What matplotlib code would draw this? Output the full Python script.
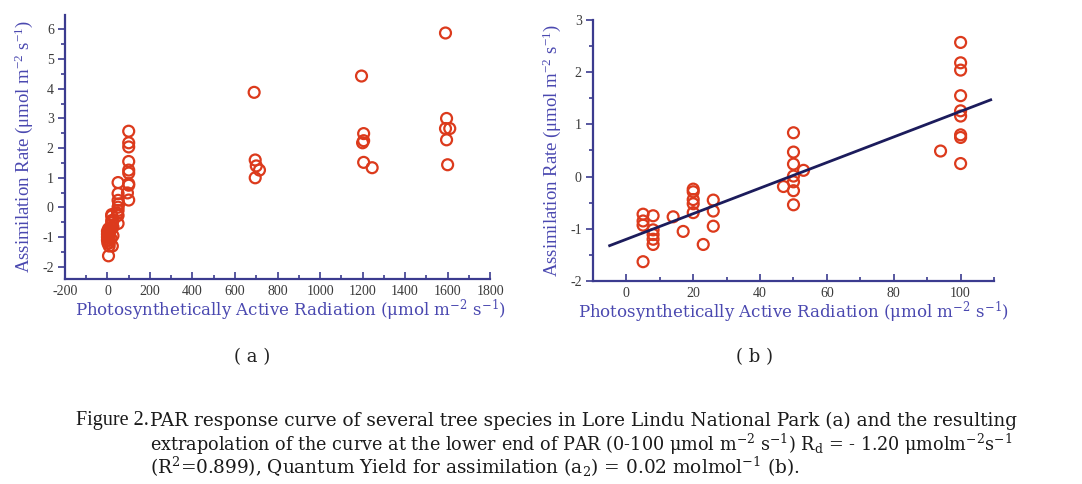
import matplotlib
matplotlib.use('Agg')
import matplotlib.pyplot as plt
import numpy as np
from matplotlib.ticker import MultipleLocator

# panel (b): low PAR measurements (0-100 umol m-2 s-1)
low_par = [5, 5, 5, 5, 8, 8, 8, 8, 8, 14, 17, 20, 20, 20, 20, 20, 23, 26, 26, 26,
           47, 50, 50, 50, 50, 50, 50, 50, 53, 94,
           100, 100, 100, 100, 100, 100, 100, 100, 100]
low_rate = [-0.72, -0.85, -0.93, -1.63, -0.75, -1.02, -1.11, -1.20, -1.30, -0.77, -1.05,
            -0.24, -0.29, -0.44, -0.52, -0.69, -1.30, -0.45, -0.66, -0.95,
            -0.19, 0.84, 0.47, 0.24, 0.01, -0.10, -0.27, -0.54, 0.12, 0.49,
            2.57, 2.18, 2.04, 1.55, 1.26, 1.16, 0.80, 0.75, 0.25]

# panel (a): extra points near zero and at high PAR
zero_par = [0, 0, 0, 0, 2]
zero_rate = [-0.80, -0.90, -1.00, -1.10, -1.20]
high_par = [690, 695, 700, 695, 715, 1195, 1205, 1205, 1200, 1205, 1245,
            1590, 1595, 1590, 1610, 1595, 1600]
high_rate = [3.88, 1.60, 1.40, 1.00, 1.26, 4.43, 2.49, 2.25, 2.18, 1.52, 1.34,
             5.88, 3.00, 2.66, 2.66, 2.28, 1.44]

# linear extrapolation in (b)
fit_x = [-5, 109]
fit_intercept = -1.20
fit_slope = 0.0245

AXIS = '#3b3b8f'
LABEL = '#4a48b0'
MARK = '#dc3a1c'
TICK = '#3a3a3a'
WIDE = 'DejaVu Serif'

plt.rcParams.update({
    'font.family': 'Liberation Serif',
    'mathtext.fontset': 'stix',
    'mathtext.default': 'regular',
    'axes.unicode_minus': False,
})

fig = plt.figure(figsize=(10.82, 4.84), dpi=100)
fig.patch.set_facecolor('white')

ax_a = fig.add_axes([0.060, 0.4236, 0.393, 0.545])
ax_b = fig.add_axes([0.548, 0.4194, 0.3707, 0.5393])

xlab = r'Photosynthetically Active Radiation ($\mu$mol m$^{-2}$ s$^{-1}$)'
ylab = r'Assimilation Rate ($\mu$mol m$^{-2}$ s$^{-1}$)'


def style(ax, ypad, xlab_x):
    for s in ['top', 'right']:
        ax.spines[s].set_visible(False)
    for s in ['left', 'bottom']:
        ax.spines[s].set_color(AXIS)
        ax.spines[s].set_linewidth(1.6)
    ax.tick_params(axis='y', which='both', direction='out', color=AXIS, width=1.2,
                   labelsize=10, labelcolor=TICK, pad=3)
    ax.tick_params(axis='x', which='both', direction='in', color=AXIS, width=1.2,
                   labelsize=10, labelcolor=TICK, pad=4)
    ax.tick_params(which='major', length=5)
    ax.tick_params(which='minor', length=3)
    ax.set_xlabel(xlab, fontsize=12, color=LABEL, labelpad=0, family=WIDE)
    ax.xaxis.label.set_x(xlab_x)
    ax.set_ylabel(ylab, fontsize=13.5, color=LABEL, labelpad=ypad)


mk = dict(marker='o', s=62, facecolors='none', edgecolors=MARK, linewidths=1.6, zorder=3)

# (a)
ax_a.scatter(low_par, low_rate, **mk)
ax_a.scatter(zero_par, zero_rate, **mk)
ax_a.scatter(high_par, high_rate, **mk)
ax_a.set_xlim(-200, 1800)
ax_a.set_ylim(-2.41, 6.48)
ax_a.xaxis.set_major_locator(MultipleLocator(200))
ax_a.xaxis.set_minor_locator(MultipleLocator(100))
ax_a.yaxis.set_major_locator(MultipleLocator(1))
ax_a.yaxis.set_minor_locator(MultipleLocator(0.5))
style(ax_a, 5, 0.53)

# (b)
ax_b.scatter(low_par, low_rate, **mk)
fx = np.array(fit_x)
ax_b.plot(fx, fit_intercept + fit_slope * fx, color='#1c1c5c', lw=2, zorder=4)
ax_b.set_xlim(-10, 110)
ax_b.set_ylim(-2, 3)
ax_b.xaxis.set_major_locator(MultipleLocator(20))
ax_b.xaxis.set_minor_locator(MultipleLocator(10))
ax_b.yaxis.set_major_locator(MultipleLocator(1))
ax_b.yaxis.set_minor_locator(MultipleLocator(0.5))
style(ax_b, 5, 0.5)

fig.text(252 / 1082, 1 - 357 / 484, '( a )', fontsize=13, ha='center', va='center',
         color='#222222', family=WIDE)
fig.text(754 / 1082, 1 - 357 / 484, '( b )', fontsize=13, ha='center', va='center',
         color='#222222', family=WIDE)

cap = '#1a1a1a'
cap_kw = dict(va='center', color=cap, family=WIDE)
fig.text(76 / 1082, 1 - 421 / 484, 'Figure 2.', fontsize=14.5, va='center', color=cap)
fig.text(150 / 1082, 1 - 421 / 484,
         'PAR response curve of several tree species in Lore Lindu National Park (a) and the resulting',
         fontsize=13.3, **cap_kw)
fig.text(150 / 1082, 1 - 444 / 484,
         r'extrapolation of the curve at the lower end of PAR (0-100 $\mu$mol m$^{-2}$ s$^{-1}$) '
         r'R$_d$ = - 1.20 $\mu$molm$^{-2}$s$^{-1}$',
         fontsize=12.7, **cap_kw)
fig.text(150 / 1082, 1 - 467 / 484,
         r'(R$^2$=0.899), Quantum Yield for assimilation (a$_2$) = 0.02 molmol$^{-1}$ (b).',
         fontsize=13.3, **cap_kw)

plt.savefig('out.png', dpi=100, facecolor='white')
plt.close()
